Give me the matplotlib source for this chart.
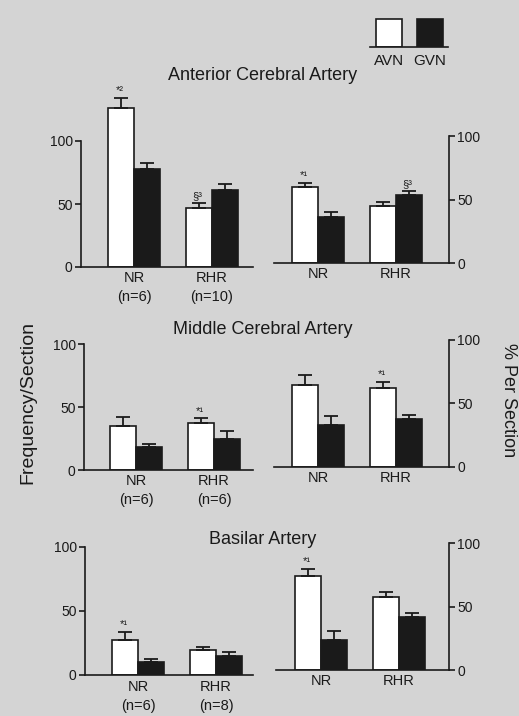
import matplotlib
matplotlib.use('Agg')
import matplotlib.pyplot as plt
import numpy as np

# data
groups = ['NR', 'RHR']
series = ['AVN', 'GVN']
arteries = ['Anterior Cerebral Artery', 'Middle Cerebral Artery', 'Basilar Artery']
n_labels = [['(n=6)', '(n=10)'], ['(n=6)', '(n=6)'], ['(n=6)', '(n=8)']]

# frequency / section  [row][group] -> (AVN, GVN)
freq_avn = [[126, 47], [35, 37], [27, 19.5]]
freq_gvn = [[78, 61], [18, 25], [10.5, 15]]
freq_avn_err = [[8, 3.5], [7, 4], [6.5, 2.5]]
freq_gvn_err = [[4.5, 5], [2.5, 6], [2.3, 3]]

# % per section
pct_avn = [[60, 45], [64, 62], [74, 57.5]]
pct_gvn = [[36, 53.5], [33, 38], [24, 41.5]]
pct_avn_err = [[3.5, 3], [8, 5], [6, 4]]
pct_gvn_err = [[4, 3], [7, 2.5], [7, 3.5]]

freq_marks = [[('*²', 0, 0), ('§³', 1, 0)], [('*¹', 1, 0)], [('*¹', 0, 0)]]
pct_marks = [[('*¹', 0, 0), ('§³', 1, 1)], [('*¹', 1, 0)], [('*¹', 0, 0)]]

W, H = 519, 716
bg = '#d4d4d4'
fig = plt.figure(figsize=(W / 100, H / 100), dpi=100)
fig.patch.set_facecolor(bg)
plt.rcParams['font.family'] = ['Liberation Sans', 'DejaVu Sans']
ink = '#1a1a1a'


def rect(x0, x1, ybase, px_per_unit, ytop):
    # axes rect from pixel positions, ylim 0..ytop
    h = px_per_unit * ytop
    return [x0 / W, (H - ybase) / H, (x1 - x0) / W, h / H]


# pixel layout: (x0, x1, baseline, px per unit, x of first group centre)
left_pos = [(81, 253, 267, 1.26, 134), (84, 253, 470, 1.257, 136),
            (85, 253, 675, 1.28, 138)]
right_pos = [(274, 449, 263, 1.267, 318), (274, 449, 467, 1.274, 318),
             (276, 449, 670, 1.266, 321)]
ytops = [140, 105, 105]
bar_w = 0.335
xpos = np.array([0.0, 1.0])


def draw_panel(ax, avn, gvn, avn_err, gvn_err, marks, side):
    ax.set_facecolor('none')
    ax.bar(xpos - bar_w / 2, avn, bar_w, color='white', edgecolor=ink, lw=1.2)
    ax.bar(xpos + bar_w / 2, gvn, bar_w, color=ink, edgecolor=ink, lw=1.2)
    ax.errorbar(xpos - bar_w / 2, avn, yerr=[np.zeros(2), avn_err], fmt='none',
                ecolor=ink, elinewidth=1.3, capsize=5, capthick=1.3)
    ax.errorbar(xpos + bar_w / 2, gvn, yerr=[np.zeros(2), gvn_err], fmt='none',
                ecolor=ink, elinewidth=1.3, capsize=5, capthick=1.3)
    vals = [avn, gvn]
    errs = [avn_err, gvn_err]
    for txt, g, s in marks:
        x = xpos[g] + (s - 0.5) * bar_w
        ax.text(x - 0.02, vals[s][g] + errs[s][g] + 1.5, txt, fontsize=8,
                ha='center', va='bottom', color=ink)
    ax.set_xticks([])
    for sp in ['top', 'left', 'right']:
        ax.spines[sp].set_visible(False)
    ax.spines['bottom'].set_linewidth(1.2)
    ax.spines['bottom'].set_color(ink)
    ax.spines[side].set_visible(True)
    ax.spines[side].set_bounds(0, 100)
    ax.spines[side].set_linewidth(1.2)
    ax.spines[side].set_color(ink)
    ax.set_yticks([0, 50, 100])
    ax.tick_params(axis='y', length=4, width=1.2, labelsize=10, pad=2,
                   colors=ink,
                   left=(side == 'left'), labelleft=(side == 'left'),
                   right=(side == 'right'), labelright=(side == 'right'))


for r in range(3):
    x0, x1, yb, sc, xc = left_pos[r]
    axl = fig.add_axes(rect(x0, x1, yb, sc, ytops[r]))
    axl.set_ylim(0, ytops[r])
    draw_panel(axl, freq_avn[r], freq_gvn[r], freq_avn_err[r], freq_gvn_err[r],
               freq_marks[r], 'left')
    lo = -(xc - x0) / 78
    axl.set_xlim(lo, lo + (x1 - x0) / 78)
    for g in range(2):
        axl.text(xpos[g], -9, groups[g], ha='center', va='center', fontsize=10.5,
                 color=ink, clip_on=False)
        axl.text(xpos[g], -24, n_labels[r][g], ha='center', va='center',
                 fontsize=10.5, color=ink, clip_on=False)

    x0, x1, yb, sc, xc = right_pos[r]
    axr = fig.add_axes(rect(x0, x1, yb, sc, ytops[r]))
    axr.set_ylim(0, ytops[r])
    draw_panel(axr, pct_avn[r], pct_gvn[r], pct_avn_err[r], pct_gvn_err[r],
               pct_marks[r], 'right')
    lo = -(xc - x0) / 78
    axr.set_xlim(lo, lo + (x1 - x0) / 78)
    for g in range(2):
        axr.text(xpos[g], -9, groups[g], ha='center', va='center', fontsize=10.5,
                 color=ink, clip_on=False)

# titles
title_y = [75, 330, 540]
for r in range(3):
    fig.text(263 / W, 1 - title_y[r] / H, arteries[r], ha='center', va='center',
             fontsize=13, color=ink)

fig.text(28 / W, 1 - 402 / H, 'Frequency/Section', rotation=90, ha='center',
         va='center', fontsize=14, color=ink)
fig.text(508 / W, 1 - 400 / H, '% Per Section', rotation=-90, ha='center',
         va='center', fontsize=13, color=ink)

# legend box drawn as a tiny bar chart
axg = fig.add_axes([370 / W, (H - 47) / H, 78 / W, 29 / H])
axg.set_facecolor('none')
axg.bar([0, 1], [1, 1], 0.63, color=['white', ink], edgecolor=ink, lw=1.2)
axg.set_xlim(-0.45, 1.43)
axg.set_ylim(0, 1.02)
axg.set_xticks([0, 1])
axg.set_xticklabels(series, fontsize=11, color=ink)
axg.set_yticks([])
axg.tick_params(axis='x', length=0, pad=5)
for sp in ['top', 'left', 'right']:
    axg.spines[sp].set_visible(False)
axg.spines['bottom'].set_linewidth(1.2)
axg.spines['bottom'].set_color(ink)

fig.savefig('out.png', dpi=100, facecolor=bg)
